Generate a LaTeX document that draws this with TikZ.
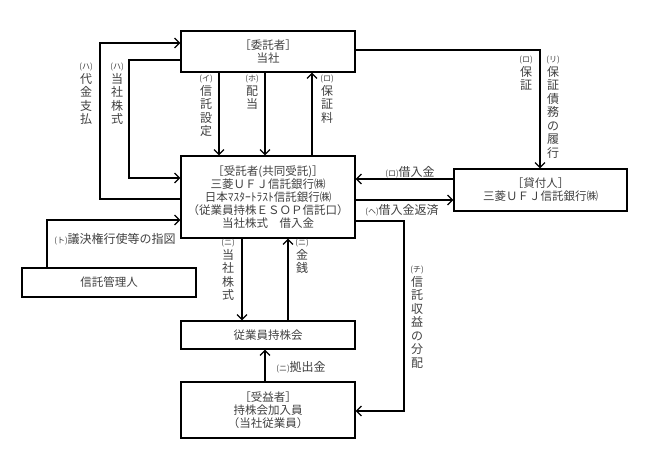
\documentclass[tikz,border=0pt]{standalone}
\usepackage{fontspec}
\setmainfont{Noto Sans CJK JP}
\usetikzlibrary{arrows.meta}
\definecolor{txt}{gray}{0.25}
\newcommand{\sm}[1]{{\fontsize{8}{9}\selectfont #1}}
\begin{document}
\begin{tikzpicture}[x=1pt,y=-1pt,
  box/.style={draw, line width=1.2pt, minimum width=174pt, align=center, inner sep=0pt, font=\fontsize{11.5}{13}\selectfont, text=txt},
  conn/.style={line width=1.2pt, -{Straight Barb[length=5pt,width=10pt]}},
  vlab/.style={anchor=north, align=center, inner sep=0pt, font=\fontsize{12}{13.5}\selectfont, text=txt},
  hlab/.style={inner sep=0pt, font=\fontsize{12}{13.5}\selectfont, text=txt}]
\useasboundingbox (0,0) rectangle (660,466);
% boxes
\node[box, minimum height=41pt] (itaku) at (268,51.5) {［委託者］\\当社};
\node[box, minimum height=82pt] (jutaku) at (268,197) {［受託者(共同受託)］\\三菱ＵＦＪ信託銀行㈱\\日本ﾏｽﾀｰﾄﾗｽﾄ信託銀行㈱\\（従業員持株ＥＳＯＰ信託口）\\当社株式　借入金};
\node[box, minimum width=173pt, minimum height=42pt] (kashi) at (540.5,190) {［貸付人］\\三菱ＵＦＪ信託銀行㈱};
\node[box, minimum height=29pt] (kanri) at (109,282.5) {信託管理人};
\node[box, minimum height=28pt] (mochi) at (268,335) {従業員持株会};
\node[box, minimum height=56pt] (juueki) at (268,410) {［受益者］\\持株会加入員\\（当社従業員）};
% connectors
\draw[conn] (jutaku.west |- 0,199) -- (100,199) -- (100,43) -- (itaku.west |- 0,43);
\draw[conn] (itaku.west |- 0,60) -- (129,60) -- (129,178) -- (jutaku.west |- 0,178);
\draw[conn] (itaku.south -| 219,0) -- (jutaku.north -| 219,0);
\draw[conn] (itaku.south -| 265,0) -- (jutaku.north -| 265,0);
\draw[conn] (jutaku.north -| 312,0) -- (itaku.south -| 312,0);
\draw[conn] (itaku.east |- 0,50) -- (540,50) -- (kashi.north -| 540,0);
\draw[conn] (kashi.west |- 0,179) -- (jutaku.east |- 0,179);
\draw[conn] (jutaku.east |- 0,200) -- (kashi.west |- 0,200);
\draw[conn] (jutaku.east |- 0,221) -- (404,221) -- (404,411) -- (juueki.east |- 0,411);
\draw[conn] (kanri.north -| 47,0) -- (47,220) -- (jutaku.west |- 0,220);
\draw[conn] (jutaku.south -| 242,0) -- (mochi.north -| 242,0);
\draw[conn] (mochi.north -| 288,0) -- (jutaku.south -| 288,0);
\draw[conn] (juueki.north -| 265,0) -- (mochi.south -| 265,0);
% vertical labels
\node[vlab] (l1) at (86,63) {\sm{(ハ)}\\代\\金\\支\\払};
\node[vlab] (l2) at (117,63) {\sm{(ハ)}\\当\\社\\株\\式};
\node[vlab] (l3) at (206,75) {\sm{(イ)}\\信\\託\\設\\定};
\node[vlab] (l4) at (252,75) {\sm{(ホ)}\\配\\当};
\node[vlab] (l5) at (327,75) {\sm{(ロ)}\\保\\証\\料};
\node[vlab] (l6) at (526,56) {\sm{(ロ)}\\保\\証};
\node[vlab] (l7) at (553,56) {\sm{(リ)}\\保\\証\\債\\務\\の\\履\\行};
\node[vlab] (l8) at (417,266) {\sm{(チ)}\\信\\託\\収\\益\\の\\分\\配};
\node[vlab] (l9) at (228,239) {\sm{(ニ)}\\当\\社\\株\\式};
\node[vlab] (l10) at (302,239) {\sm{(ニ)}\\金\\銭};
% horizontal labels
\node[hlab] (h1) at (410,172) {\sm{(ロ)}借入金};
\node[hlab] (h2) at (402,210) {\sm{(ヘ)}借入金返済};
\node[hlab] (h3) at (115,239) {\sm{(ト)}議決権行使等の指図};
\node[hlab] (h4) at (301,367) {\sm{(ニ)}拠出金};
\end{tikzpicture}
\end{document}
